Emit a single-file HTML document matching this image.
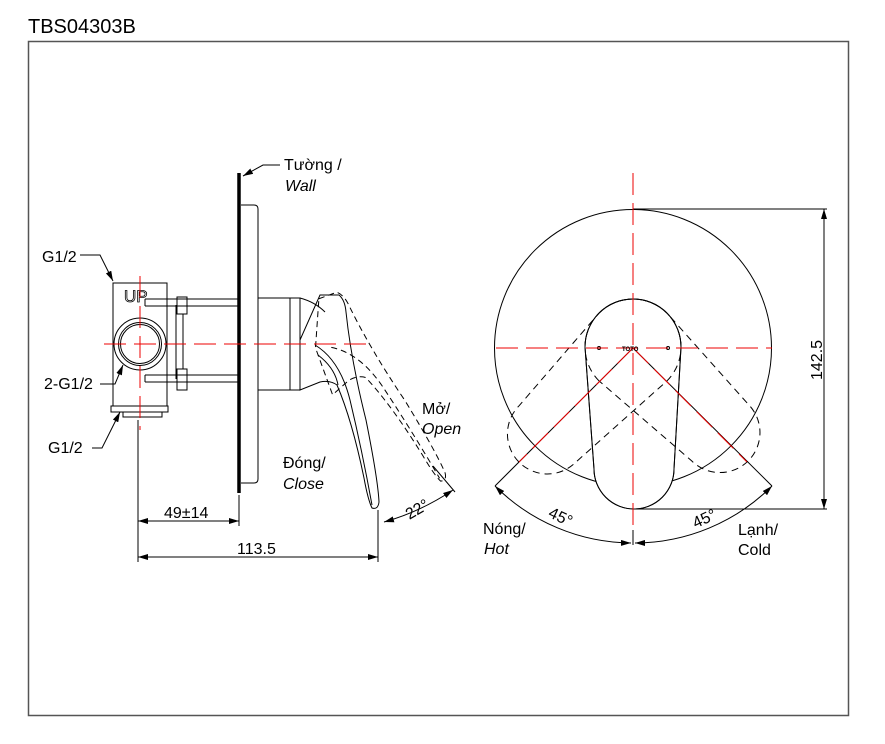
<!DOCTYPE html>
<html><head><meta charset="utf-8"><style>
html,body{margin:0;padding:0;background:#fff;}
svg{display:block;}
text{font-family:"Liberation Sans",Arial,sans-serif;fill:#000;}
</style></head><body>
<svg width="885" height="744" viewBox="0 0 885 744" xmlns="http://www.w3.org/2000/svg">
<defs>
<marker id="ar" viewBox="0 0 10 6" refX="10" refY="3" markerWidth="10" markerHeight="6" orient="auto-start-reverse" markerUnits="userSpaceOnUse"><path d="M0,0 L10,3 L0,6 z" fill="#000"/></marker>
</defs>
<text x="28" y="33" font-size="20">TBS04303B</text>
<rect x="28.5" y="41.5" width="820" height="674" fill="none" stroke="#555" stroke-width="1.5"/>

<g fill="none" stroke="#000" stroke-width="1">
<line x1="239" y1="173" x2="239" y2="493" stroke-width="3.5"/>
<path d="M241,205 H254 Q258,205 258,209 V479 Q258,483 254,483 H241"/>
<rect x="258" y="298" width="32" height="92"/>
<path d="M290,298 H300 V390 H290"/>
<path d="M300,298 Q315,302 325,312"/>
<rect x="113" y="283" width="54" height="123"/>
<circle cx="140" cy="344" r="26"/>
<circle cx="140" cy="344" r="21.5"/>
<circle cx="140" cy="344" r="19.5"/>
<rect x="111" y="406" width="57" height="6"/>
<rect x="123" y="412" width="39" height="5"/>
<path d="M145,299 H239 M145,306 H239 M145,299 V306"/>
<path d="M145,375 H239 M145,382 H239 M145,375 V382"/>
<rect x="177" y="297" width="10" height="17"/>
<rect x="177" y="369" width="10" height="21"/>
<line x1="176" y1="305" x2="176" y2="379"/>
<line x1="183" y1="314" x2="183" y2="369"/>
<path d="M320,295 H339 Q345,300 346,312 Q351,360 366,420 Q378,480 379,502 Q378,510 372,508 Q368,500 364,478 Q352,420 337,385 Q330,380 320,382 L300,390 V340 Z"/>
<path d="M315,345 Q340,360 350,400 Q362,450 372,505"/>
<path d="M318,355 Q335,368 338,385"/>
<g stroke-dasharray="6,4" transform="rotate(-20 330 300)">
<path d="M320,295 H339 Q345,300 346,312 Q351,360 366,420 Q378,480 379,502 Q378,510 372,508 Q368,500 364,478 Q352,420 337,385 Q330,380 320,382 L300,390 V340 Z"/>
<path d="M315,345 Q340,360 350,400 Q362,450 372,505"/>
</g>
</g>
<text x="124" y="302" font-size="17" fill="none" stroke="#000" stroke-width="0.8" style="fill:none">UP</text>
<g stroke="#e00" stroke-width="1" stroke-dasharray="22,8">
<line x1="104" y1="344" x2="366" y2="344"/>
<line x1="140" y1="276" x2="140" y2="430"/>
</g>
<g stroke="#000" stroke-width="1" fill="none">
<line x1="138" y1="420" x2="138" y2="562"/>
<line x1="239" y1="495" x2="239" y2="526"/>
<line x1="378" y1="510" x2="378" y2="562"/>
<line x1="138" y1="521" x2="239" y2="521" marker-start="url(#ar)" marker-end="url(#ar)"/>
<line x1="138" y1="557" x2="378" y2="557" marker-start="url(#ar)" marker-end="url(#ar)"/>
<line x1="433" y1="466" x2="455" y2="492"/>
<path d="M384,522 Q420,512 453,490" marker-start="url(#ar)" marker-end="url(#ar)"/>
<polyline points="280,165 263,165 243,176" marker-end="url(#ar)"/>
<polyline points="80,255 100,255 113,281" marker-end="url(#ar)"/>
<polyline points="100,384 115,384 123,365" marker-end="url(#ar)"/>
<polyline points="92,448 102,448 120,412" marker-end="url(#ar)"/>
</g>
<text x="284" y="170" font-size="16">Tường /</text>
<text x="285" y="191" font-size="16" font-style="italic">Wall</text>
<text x="42" y="262" font-size="16">G1/2</text>
<text x="44" y="389" font-size="16">2-G1/2</text>
<text x="48" y="453" font-size="16">G1/2</text>
<text x="283" y="468" font-size="16">Đóng/</text>
<text x="283" y="489" font-size="16" font-style="italic">Close</text>
<text x="422" y="414" font-size="16">Mở/</text>
<text x="422" y="434" font-size="16" font-style="italic">Open</text>
<text x="164" y="518" font-size="16">49±14</text>
<text x="237" y="554" font-size="16">113.5</text>
<text x="404" y="516" font-size="16" transform="rotate(-30 414 508)">22°</text>

<g fill="none" stroke="#000" stroke-width="1">
<circle cx="633" cy="348" r="138.5"/>
<path d="M585,347 A48,48 0 0 1 681,347 L674,469 A40,40 0 0 1 594,469 Z" fill="#fff"/>
<g stroke-dasharray="7,5">
<path d="M585,347 A48,48 0 0 1 681,347 L674,469 A40,40 0 0 1 594,469 Z" transform="rotate(45 633 347)"/>
<path d="M585,347 A48,48 0 0 1 681,347 L674,469 A40,40 0 0 1 594,469 Z" transform="rotate(-45 633 347)"/>
</g>
<path d="M585,347 A48,48 0 0 1 681,347 L674,469 A40,40 0 0 1 594,469 Z"/>
<circle cx="599" cy="348" r="1.5"/>
<circle cx="668" cy="348" r="1.5"/>
<line x1="633" y1="209" x2="827" y2="209"/>
<line x1="633" y1="509" x2="827" y2="509"/>
<line x1="824" y1="209" x2="824" y2="509" marker-start="url(#ar)" marker-end="url(#ar)"/>
<line x1="633" y1="348" x2="495" y2="486"/>
<line x1="633" y1="348" x2="772" y2="486"/>
<line x1="633" y1="530" x2="633" y2="545"/>
<path d="M495,486 A195,195 0 0 0 631,543" marker-start="url(#ar)" marker-end="url(#ar)"/>
<path d="M772,486 A195,195 0 0 1 635,543" marker-start="url(#ar)" marker-end="url(#ar)"/>
</g>
<g stroke="#e00" stroke-width="1" stroke-dasharray="22,8">
<line x1="633" y1="173" x2="633" y2="530"/>
<line x1="496" y1="348" x2="772" y2="348"/>
<line x1="633" y1="348" x2="519" y2="462"/>
<line x1="633" y1="348" x2="747" y2="462"/>
</g>
<text x="622" y="351" font-size="6" font-weight="bold">TOTO</text>
<text x="822" y="380" font-size="16" transform="rotate(-90 822 380)">142.5</text>
<text x="548" y="522" font-size="16" transform="rotate(25 560 518)">45°</text>
<text x="692" y="524" font-size="16" transform="rotate(-25 704 518)">45°</text>
<text x="483" y="534" font-size="16">Nóng/</text>
<text x="484" y="554" font-size="16" font-style="italic">Hot</text>
<text x="738" y="535" font-size="16">Lạnh/</text>
<text x="738" y="555" font-size="16">Cold</text>
</svg>
</body></html>
